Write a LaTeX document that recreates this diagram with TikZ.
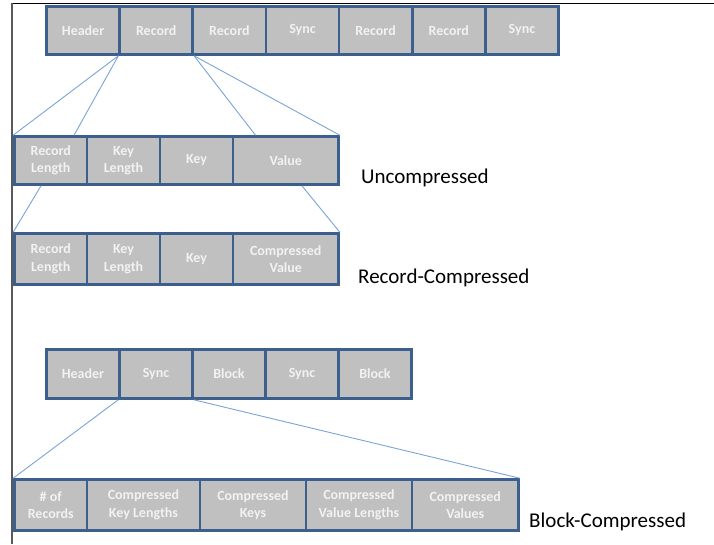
\documentclass[tikz,border=0pt]{standalone}
\usepackage{fontspec}
\setmainfont{Carlito}
\usepackage{tikz}
\usetikzlibrary{calc}
\definecolor{cellfill}{HTML}{C0C0C0}
\definecolor{celledge}{HTML}{3C5F8D}
\definecolor{celltext}{HTML}{F2F2F2}
\definecolor{zoomline}{HTML}{7AA3D6}
\tikzstyle{cell}=[rectangle,draw=celledge,fill=cellfill,line width=2.6pt,
  text=celltext,font=\fontsize{14}{17.5}\selectfont\bfseries,align=center,
  inner sep=0pt,minimum height=48pt]
\tikzstyle{zoom}=[draw=zoomline,line width=0.9pt]
\tikzstyle{caption}=[anchor=west,inner sep=0pt,font=\fontsize{21}{25}\selectfont]
\newcommand{\cell}{\node[cell]}

\begin{document}
\begin{tikzpicture}[x=1pt,y=-1pt]
    \useasboundingbox (0,0) rectangle (714,544);
    \draw[line width=0.8pt,black] (12,3.3) -- (714,3.3);
    \draw[line width=1.2pt,gray!70!black] (12,3.3) -- (12,544);
    % sequence file
    \cell[minimum width=73.1pt] (r1) at (83.1,30.5) {Header};
    \cell[minimum width=73.1pt] (r2) at (156.2,30.5) {Record};
    \cell[minimum width=73.1pt] (r3) at (229.4,30.5) {Record};
    \cell[minimum width=73.1pt] (r4) at (302.5,30.5) {Sync};
    \cell[minimum width=73.1pt] (r5) at (375.6,30.5) {Record};
    \cell[minimum width=73.1pt] (r6) at (448.8,30.5) {Record};
    \cell[minimum width=73.1pt] (r7) at (521.9,30.5) {Sync};
    % uncompressed record
    \cell[minimum width=72.5pt] (u1) at (50.75,160.5) {Record\\Length};
    \cell[minimum width=73pt] (u2) at (123.5,160.5) {Key\\Length};
    \cell[minimum width=73pt] (u3) at (196.5,160.5) {Key};
    \cell[minimum width=105.5pt] (u4) at (285.75,160.5) {Value};
    \node[caption] (unc) at (361,178) {Uncompressed};
    % record compressed
    \cell[minimum width=72.5pt,minimum height=51pt] (c1) at (50.75,259) {Record\\Length};
    \cell[minimum width=73pt,minimum height=51pt] (c2) at (123.5,259) {Key\\Length};
    \cell[minimum width=73pt,minimum height=51pt] (c3) at (196.5,259) {Key};
    \cell[minimum width=105.5pt,minimum height=51pt] (c4) at (285.75,259) {Compressed\\Value};
    \node[caption] (rec) at (358,278) {Record-Compressed};
    % block compressed file
    \cell[minimum width=73pt,minimum height=49pt] (b1) at (83,374) {Header};
    \cell[minimum width=73pt,minimum height=49pt] (b2) at (156,374) {Sync};
    \cell[minimum width=73pt,minimum height=49pt] (b3) at (229,374) {Block};
    \cell[minimum width=73pt,minimum height=49pt] (b4) at (302,374) {Sync};
    \cell[minimum width=73pt,minimum height=49pt] (b5) at (375,374) {Block};
    % block
    \cell[minimum width=72.5pt,minimum height=51pt] (z1) at (50.75,505) {\# of\\Records};
    \cell[minimum width=113pt,minimum height=51pt] (z2) at (143.5,505) {Compressed\\Key Lengths};
    \cell[minimum width=106pt,minimum height=51pt] (z3) at (253,505) {Compressed\\Keys};
    \cell[minimum width=106pt,minimum height=51pt] (z4) at (359,505) {Compressed\\Value Lengths};
    \cell[minimum width=106.5pt,minimum height=51pt] (z5) at (465.25,505) {Compressed\\Values};
    \node[caption] (blk) at (529,522) {Block-Compressed};
    \path[zoom]
    (r2.south west) edge (u1.north west)
    (r2.south west) edge ($(u1.north west)!0.81!(u1.north east)$)
    (r2.south east) edge ($(u4.north west)!0.22!(u4.north east)$)
    (r2.south east) edge (u4.north east)
    ($(u1.south west)!0.37!(u1.south east)$) edge (c1.north west)
    ($(u4.south west)!0.65!(u4.south east)$) edge (c4.north east)
    (b2.south west) edge (z1.north west)
    (b2.south east) edge (z5.north east);
\end{tikzpicture}
\end{document}
